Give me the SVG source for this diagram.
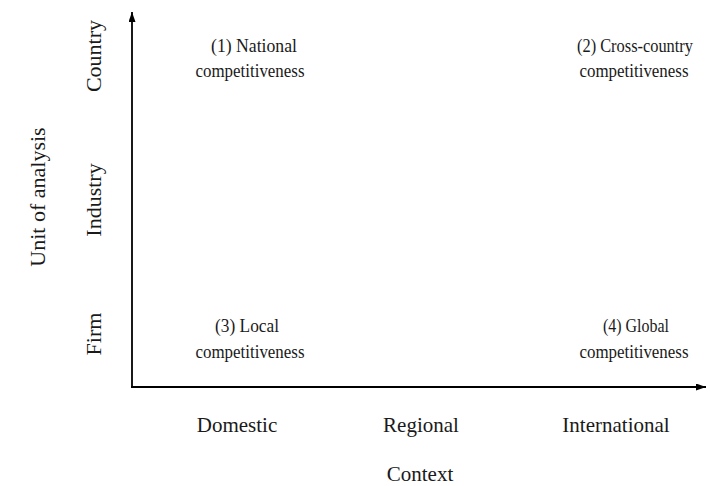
<svg xmlns="http://www.w3.org/2000/svg" width="710" height="486" viewBox="0 0 710 486">
  <style>
    .lbl { font-family: 'Liberation Serif', 'Times New Roman', serif; fill: #1a1a1a; text-anchor: middle; }
    .quad { font-size: 18.5px; }
    .tick { font-size: 21px; }
    .vtick { font-size: 22px; }
    .axis { stroke: #000; stroke-width: 1.8; fill: none; }
  </style>
  <defs>
    <marker id="arrow" viewBox="0 0 10 7" refX="10" refY="3.5" markerWidth="10" markerHeight="7" markerUnits="userSpaceOnUse" orient="auto">
      <path d="M0,0 L10,3.5 L0,7 Z" fill="#000"/>
    </marker>
  </defs>
  <rect width="710" height="486" fill="#fff"/>

  <!-- axes -->
  <g id="axes">
    <path class="axis" d="M132,387 L132,12" marker-end="url(#arrow)"/>
    <path class="axis" d="M131,387 L706,387" marker-end="url(#arrow)"/>
  </g>

  <!-- vertical axis labels -->
  <g id="y-labels" class="lbl vtick">
    <text transform="translate(101,56) rotate(-90)">Country</text>
    <text transform="translate(101,200) rotate(-90)">Industry</text>
    <text transform="translate(101,334) rotate(-90)">Firm</text>
    <text transform="translate(45,197) rotate(-90)">Unit of analysis</text>
  </g>

  <!-- horizontal axis labels -->
  <g id="x-labels" class="lbl tick">
    <text x="237" y="432">Domestic</text>
    <text x="421" y="432">Regional</text>
    <text x="616" y="432">International</text>
    <text x="420" y="481">Context</text>
  </g>

  <!-- quadrants (widths pinned so the serif face keeps the set measure) -->
  <g id="q1" class="lbl quad">
    <text x="254" y="52" textLength="86" lengthAdjust="spacingAndGlyphs">(1) National</text>
    <text x="250" y="77" textLength="109" lengthAdjust="spacingAndGlyphs">competitiveness</text>
  </g>
  <g id="q2" class="lbl quad">
    <text x="635" y="52" textLength="116" lengthAdjust="spacingAndGlyphs">(2) Cross-country</text>
    <text x="634" y="77" textLength="109" lengthAdjust="spacingAndGlyphs">competitiveness</text>
  </g>
  <g id="q3" class="lbl quad">
    <text x="247" y="332" textLength="64" lengthAdjust="spacingAndGlyphs">(3) Local</text>
    <text x="250" y="358" textLength="109" lengthAdjust="spacingAndGlyphs">competitiveness</text>
  </g>
  <g id="q4" class="lbl quad">
    <text x="636" y="332" textLength="66" lengthAdjust="spacingAndGlyphs">(4) Global</text>
    <text x="634" y="358" textLength="109" lengthAdjust="spacingAndGlyphs">competitiveness</text>
  </g>
</svg>
